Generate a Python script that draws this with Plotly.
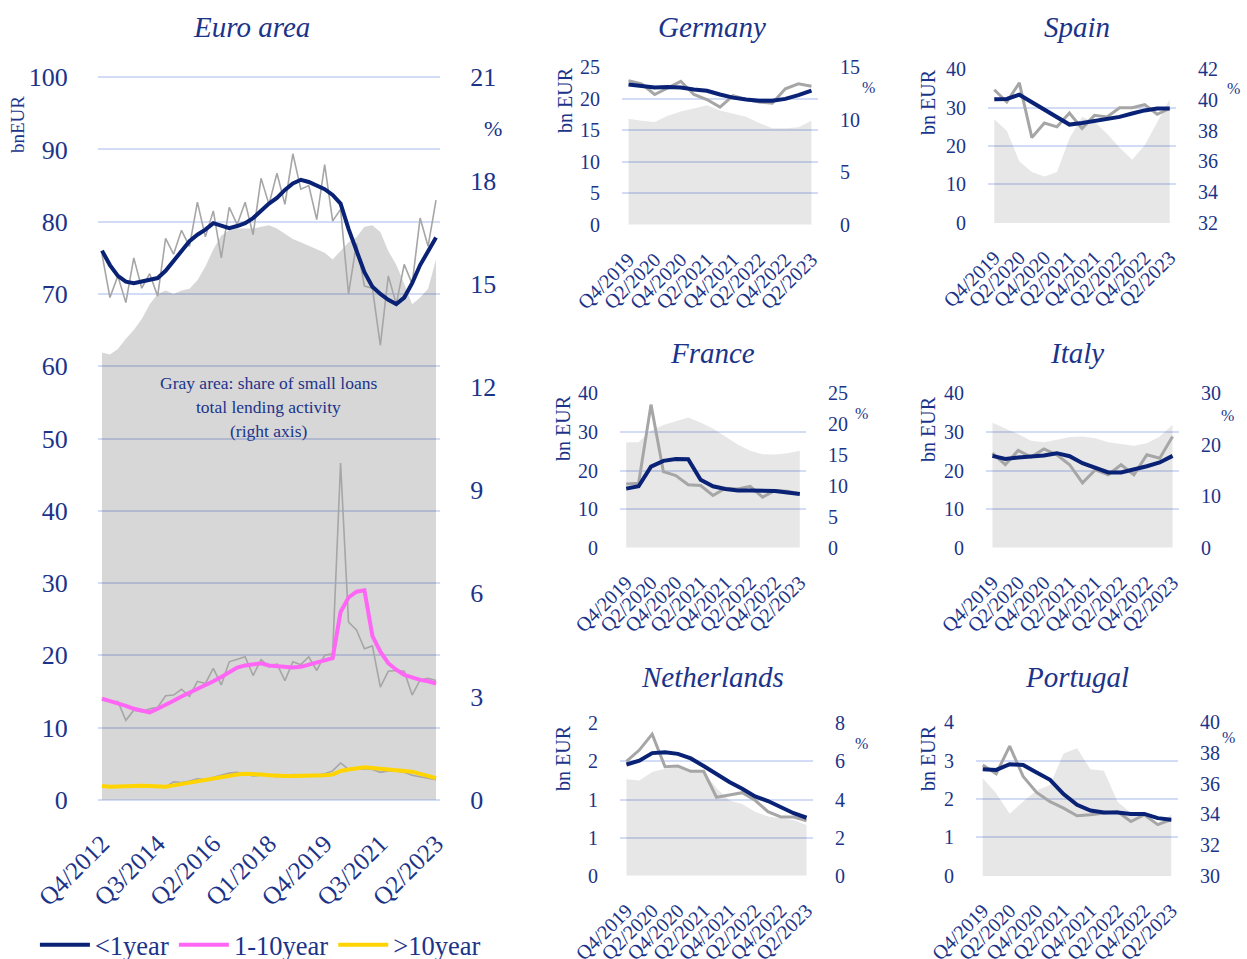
import plotly.graph_objects as go

W, H = 1247, 959
NAVY = "#0a2275"
TEXT = "#1b3489"
GRID = "#d3dcf6"
RAW = "#a6a6a6"
MAGENTA = "#ff66f5"
YELLOW = "#ffd400"
FONT = "Liberation Serif"


def quarters(q, y, n):
    """Quarter labels like Q4/2012, n of them."""
    out = []
    for _ in range(n):
        out.append(f"Q{q}/{y}")
        q += 1
        if q > 4:
            q, y = 1, y + 1
    return out


euro_q = quarters(4, 2012, 43)
country_q = quarters(4, 2019, 15)
euro_ticks = ["Q4/2012", "Q3/2014", "Q2/2016", "Q1/2018", "Q4/2019", "Q3/2021", "Q2/2023"]
country_ticks = ["Q4/2019", "Q2/2020", "Q4/2020", "Q2/2021", "Q4/2021", "Q2/2022", "Q4/2022", "Q2/2023"]

# Euro area (bn EUR, share in %)
euro_share = [13.0, 12.94, 13.1, 13.4, 13.65, 13.97, 14.4, 14.7, 14.8, 14.7,
              14.8, 14.85, 15.1, 15.5, 16.0, 16.4, 16.55, 16.6, 16.6, 16.6,
              16.65, 16.7, 16.6, 16.45, 16.3, 16.2, 16.1, 16.0, 15.9, 15.7,
              15.95, 16.2, 16.35, 16.65, 16.7, 16.5, 15.95, 15.55, 15.0, 14.4,
              14.6, 14.85, 15.7]
euro_lt1 = [76.0, 74.0, 72.5, 71.7, 71.5, 71.7, 71.9, 72.2, 73.2, 74.6,
            76.0, 77.3, 78.2, 78.9, 79.8, 79.5, 79.1, 79.4, 79.8, 80.5,
            81.5, 82.5, 83.3, 84.4, 85.3, 85.8, 85.5, 85.0, 84.5, 83.7,
            82.5, 79.0, 76.0, 73.0, 71.0, 70.0, 69.2, 68.6, 69.5, 71.5,
            74.0, 76.0, 77.8]
euro_lt1_raw = [75.5, 69.5, 72.5, 68.8, 75.0, 70.8, 72.8, 69.7, 77.7, 75.5,
                78.8, 76.6, 82.7, 77.9, 81.5, 75.0, 82.0, 79.6, 82.7, 78.2,
                86.0, 82.4, 86.7, 82.4, 89.4, 84.5, 85.0, 80.3, 87.9, 80.1,
                81.7, 70.0, 77.0, 71.1, 70.8, 62.9, 72.5, 68.6, 74.1, 71.4,
                80.5, 76.6, 83.0]
euro_1to10 = [14.0, 13.7, 13.3, 13.0, 12.6, 12.3, 12.1, 12.6, 13.1, 13.7,
              14.3, 14.8, 15.4, 15.8, 16.4, 17.0, 17.7, 18.3, 18.6, 18.8,
              18.9, 18.6, 18.5, 18.3, 18.3, 18.4, 18.7, 19.0, 19.3, 19.6,
              26.0, 28.0, 28.8, 29.0, 22.7, 20.5, 18.9, 18.0, 17.3, 16.9,
              16.6, 16.4, 16.1]
euro_1to10_raw = [13.8, 13.6, 13.6, 11.0, 12.4, 12.2, 12.6, 12.8, 14.4, 14.5,
                  15.3, 14.3, 16.4, 16.1, 18.2, 15.9, 19.1, 19.4, 19.8, 17.2,
                  19.4, 18.4, 18.8, 16.5, 19.1, 18.7, 19.8, 17.9, 20.0, 20.2,
                  46.6, 24.6, 23.5, 20.9, 21.3, 15.6, 17.8, 17.9, 17.8, 14.5,
                  16.6, 16.8, 16.5]
euro_gt10 = [1.9, 1.8, 1.85, 1.9, 1.95, 1.95, 1.9, 1.85, 1.8, 2.0,
             2.2, 2.4, 2.6, 2.7, 2.9, 3.1, 3.3, 3.5, 3.6, 3.6,
             3.5, 3.4, 3.3, 3.3, 3.3, 3.3, 3.3, 3.3, 3.4, 3.5,
             4.0, 4.2, 4.4, 4.5, 4.4, 4.3, 4.2, 4.1, 4.0, 3.9,
             3.6, 3.3, 3.0]
euro_gt10_raw = [1.9, 1.8, 1.9, 1.9, 2.0, 1.9, 1.9, 1.8, 1.8, 2.5,
                 2.4, 2.6, 2.9, 2.8, 3.1, 3.3, 3.7, 3.8, 3.5, 3.3,
                 3.4, 3.5, 3.2, 3.3, 3.5, 3.4, 3.3, 3.4, 3.6, 4.0,
                 5.1, 4.2, 4.3, 4.3, 4.2, 3.8, 4.0, 4.0, 3.8, 3.4,
                 3.2, 3.0, 2.8]

# countries, <1 year loans: smoothed, raw, share of small loans (%)
de_smooth = [22.3, 22.1, 21.8, 21.9, 21.8, 21.5, 21.3, 20.7, 20.2, 19.9, 19.7, 19.7, 20.0, 20.6, 21.3]
de_raw = [22.9, 22.4, 20.7, 21.8, 22.8, 20.7, 19.9, 18.7, 20.5, 19.9, 19.5, 19.3, 21.6, 22.4, 22.0]
de_share = [10.1, 9.9, 9.8, 10.4, 10.8, 11.1, 11.4, 10.9, 10.6, 10.3, 9.7, 9.2, 9.2, 9.3, 9.9]

es_smooth = [32.2, 32.3, 33.4, 31.5, 29.3, 27.6, 25.6, 26.0, 26.6, 27.0, 27.6, 28.5, 29.3, 29.8, 29.8]
es_raw = [34.7, 31.5, 36.5, 22.2, 26.0, 25.0, 28.6, 24.6, 28.0, 27.6, 30.0, 30.0, 30.8, 28.3, 29.8]
es_share = [38.75, 38.0, 36.0, 35.3, 35.0, 35.3, 37.5, 38.9, 38.6, 37.8, 36.9, 36.1, 37.05, 38.6, 40.05]

fr_smooth = [15.3, 15.9, 21.0, 22.5, 23.0, 22.9, 17.6, 15.9, 15.2, 14.8, 14.8, 14.7, 14.7, 14.3, 13.9]
fr_raw = [16.5, 16.7, 37.1, 19.7, 18.7, 16.3, 16.1, 13.5, 15.4, 15.2, 15.9, 13.1, 14.8, 14.6, 14.0]
fr_share = [17.1, 17.1, 19.0, 19.9, 20.5, 21.1, 20.3, 19.3, 18.0, 16.7, 15.7, 15.15, 15.1, 15.3, 15.7]

it_smooth = [23.8, 23.0, 23.4, 23.7, 23.9, 24.5, 23.7, 21.9, 20.6, 19.5, 19.5, 20.2, 21.1, 22.1, 23.8]
it_raw = [24.5, 21.5, 25.2, 23.5, 25.6, 24.1, 21.5, 16.8, 20.2, 18.9, 21.5, 18.9, 24.1, 23.2, 28.8]
it_share = [24.3, 23.2, 22.1, 20.8, 20.5, 21.0, 21.5, 21.6, 21.3, 20.5, 20.2, 19.8, 20.3, 21.6, 23.9]

nl_smooth = [1.46, 1.51, 1.61, 1.62, 1.60, 1.54, 1.44, 1.33, 1.23, 1.14, 1.04, 0.98, 0.90, 0.82, 0.76]
nl_raw = [1.50, 1.65, 1.86, 1.43, 1.44, 1.37, 1.37, 1.03, 1.06, 1.09, 0.99, 0.84, 0.77, 0.77, 0.72]
nl_share = [5.06, 5.0, 5.44, 5.62, 5.7, 5.57, 5.44, 4.6, 3.95, 3.76, 3.36, 3.1, 3.0, 2.92, 2.66]

pt_smooth = [2.78, 2.76, 2.91, 2.89, 2.69, 2.50, 2.13, 1.85, 1.70, 1.65, 1.65, 1.61, 1.61, 1.50, 1.46]
pt_raw = [2.89, 2.66, 3.38, 2.59, 2.17, 1.93, 1.76, 1.56, 1.59, 1.63, 1.67, 1.41, 1.59, 1.33, 1.46]
pt_share = [36.36, 35.38, 34.03, 34.84, 35.55, 35.92, 37.98, 38.31, 36.94, 36.85, 34.84, 34.08, 34.01, 33.43, 33.97]


def dom_x(x0, x1):
    return [x0 / W, x1 / W]


def dom_y(top, bottom):
    return [1 - bottom / H, 1 - top / H]


def pad(r):
    # widen a range a hair so plotly keeps the gridlines at both ends
    e = (r[1] - r[0]) * 0.003
    return [r[0] - e, r[1] + e]


fig = go.Figure()
layout = {}


def add_panel(idx, box, cats, xticks, left, right, lines, share, fill, big=False):
    """One panel: gray share area on a right axis, lines on a left axis."""
    x0, x1, top, bottom = box
    xr = "x" if idx == 1 else f"x{idx}"
    yb, yo = 2 * idx - 1, 2 * idx
    ybr = "y" if yb == 1 else f"y{yb}"
    yor = f"y{yo}"
    fsize = 26 if big else 20
    tfont = dict(family=FONT, size=fsize, color=TEXT)

    fig.add_trace(go.Scatter(x=cats, y=share, xaxis=xr, yaxis=ybr, mode="lines",
                             line=dict(width=0), fill="tozeroy", fillcolor=fill,
                             showlegend=False, hoverinfo="skip"))
    for ys, color, width, name in lines:
        fig.add_trace(go.Scatter(x=cats, y=ys, xaxis=xr, yaxis=yor, mode="lines",
                                 line=dict(color=color, width=width), name=name or "",
                                 showlegend=bool(name)))

    layout["xaxis" if idx == 1 else f"xaxis{idx}"] = dict(
        domain=dom_x(x0, x1), anchor=ybr, type="category", automargin=False,
        range=[-0.5, len(cats) - 0.5], tickvals=xticks, tickangle=-45,
        showgrid=False, zeroline=False, showline=False,
        ticks="outside", ticklen=16 if big else 14, tickcolor="rgba(0,0,0,0)",
        tickfont=dict(family=FONT, size=25 if big else 20, color=TEXT))
    layout["yaxis" if yb == 1 else f"yaxis{yb}"] = dict(
        domain=dom_y(top, bottom), anchor=xr, side="right", automargin=False,
        range=pad(right[0]), tickvals=right[1], showgrid=False, zeroline=False,
        ticks="outside", ticklen=24 if big else 17, tickcolor="rgba(0,0,0,0)",
        tickfont=tfont)
    layout[f"yaxis{yo}"] = dict(
        overlaying=ybr, anchor=xr, side="left", automargin=False,
        range=pad(left[0]), tickvals=left[1], ticktext=left[2],
        showgrid=True, gridcolor=GRID, gridwidth=1.5, zeroline=False,
        ticks="outside", ticklen=24 if big else 17, tickcolor="rgba(0,0,0,0)",
        tickfont=tfont)


EURO_FILL = "rgba(0,0,0,0.155)"
CTRY_FILL = "rgba(0,0,0,0.095)"


def lin(a, b, step):
    vals = []
    v = a
    while v <= b + 1e-9:
        vals.append(round(v, 4))
        v += step
    return vals


def txt(vals):
    return [f"{v:g}" for v in vals]


add_panel(1, (98, 440, 75, 802), euro_q, euro_ticks,
          ([0, 100], lin(0, 100, 10), txt(lin(0, 100, 10))),
          ([0, 21], lin(0, 21, 3)),
          [(euro_lt1_raw, RAW, 1.6, None), (euro_lt1, NAVY, 4, "<1year"),
           (euro_1to10_raw, RAW, 1.6, None), (euro_1to10, MAGENTA, 4, "1-10year"),
           (euro_gt10_raw, RAW, 1.6, None), (euro_gt10, YELLOW, 4, ">10year")],
          euro_share, EURO_FILL, big=True)

countries = [
    ("Germany", (622, 818, 67, 225), [0, 25], 5, [0, 15], 5, de_smooth, de_raw, de_share),
    ("Spain", (988, 1176, 69, 223), [0, 40], 10, [32, 42], 2, es_smooth, es_raw, es_share),
    ("France", (620, 806, 393, 548), [0, 40], 10, [0, 25], 5, fr_smooth, fr_raw, fr_share),
    ("Italy", (986, 1179, 393, 548), [0, 40], 10, [0, 30], 10, it_smooth, it_raw, it_share),
    ("Netherlands", (620, 813, 723, 876), [0, 2], 0.5, [0, 8], 2, nl_smooth, nl_raw, nl_share),
    ("Portugal", (976, 1178, 722, 876), [0, 4], 1, [30, 40], 2, pt_smooth, pt_raw, pt_share),
]

for k, (name, box, lr, ld, rr, rd, sm, raw, share) in enumerate(countries):
    lv = lin(lr[0], lr[1], ld)
    lt = [str(int(v + 0.5)) for v in lv]
    add_panel(k + 2, box, country_q, country_ticks,
              (lr, lv, lt), (rr, lin(rr[0], rr[1], rd)),
              [(raw, RAW, 3, None), (sm, NAVY, 4, None)],
              share, CTRY_FILL)

annotations = []


def note(x, y, text, size, angle=0, xanchor="center"):
    annotations.append(dict(x=x / W, y=1 - y / H, xref="paper", yref="paper",
                            text=text, showarrow=False, textangle=angle,
                            xanchor=xanchor, yanchor="middle",
                            font=dict(family=FONT, size=size, color=TEXT)))


# panel titles
for name, x, y in [("Euro area", 251, 27), ("Germany", 712, 27), ("Spain", 1077, 27),
                   ("France", 712, 353), ("Italy", 1077, 353),
                   ("Netherlands", 712, 677), ("Portugal", 1077, 677)]:
    note(x, y, f"<i>{name}</i>", 29)

note(18, 125, "bnEUR", 19, angle=-90)
note(493, 128, "%", 22)
for x, y in [(565, 100), (928, 102), (563, 428), (928, 429), (563, 758), (928, 758)]:
    note(x, y, "bn EUR", 20, angle=-90)
for x, y in [(868, 87), (1233, 88), (861, 413), (1227, 415), (861, 743), (1228, 737)]:
    note(x, y, "%", 16)

note(268, 383, "Gray area: share of small loans", 17.5)
note(268, 407, "total lending activity", 17.5)
note(268, 431, "(right axis)", 17.5)

fig.update_layout(
    **layout,
    width=W, height=H,
    margin=dict(l=0, r=0, t=0, b=0, autoexpand=False),
    paper_bgcolor="white", plot_bgcolor="rgba(0,0,0,0)",
    annotations=annotations,
    showlegend=True,
    legend=dict(orientation="h", x=0.028, y=1 - 945 / H, xanchor="left", yanchor="middle",
                font=dict(family=FONT, size=26.5, color=TEXT), itemwidth=50,
                bgcolor="rgba(0,0,0,0)"),
)

# the page body has a default 8px margin; drop it so the figure fills the window
fig.write_html("out.html", config={"displayModeBar": False},
               post_script="document.body.style.margin = '0';")
